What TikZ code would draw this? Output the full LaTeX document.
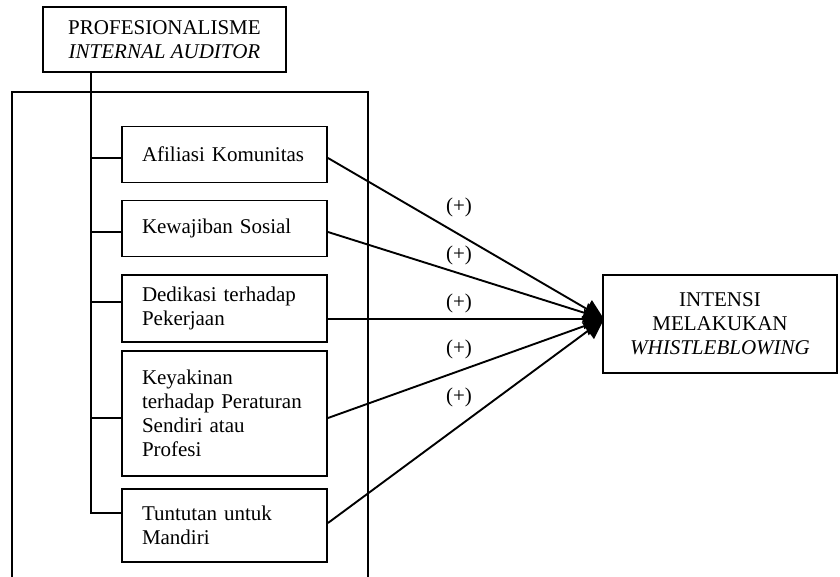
\documentclass[tikz,border=0pt]{standalone}
\usepackage{fontspec}
\setmainfont{Liberation Serif}
\usetikzlibrary{arrows.meta}
\begin{document}
\begin{tikzpicture}[x=1pt,y=-1pt,
  every node/.style={font=\fontsize{21}{24}\selectfont},
  ln/.style={line width=1.9pt},
  box/.style={draw,line width=1.9pt,inner sep=0pt},
  dim/.style={box,minimum width=205pt,text width=165pt,align=left,inner xsep=20pt,inner ysep=0pt},
  conn/.style={line width=1.9pt,-{Triangle[length=20pt,width=20pt]}},
  sign/.style={inner sep=1pt}]
\useasboundingbox (0,0) rectangle (840,577);
% outer frame (open at the bottom)
\draw[ln] (12,577) -- (12,92) -- (368,92) -- (368,577);
% top box
\node[box,minimum width=243pt,minimum height=65pt,align=center] (top) at (164.5,39.5)
  {PROFESIONALISME\\\textit{INTERNAL AUDITOR}};
% dimension boxes
\node[dim,minimum height=56pt] (b1) at (224.5,154.5) {Afiliasi Komunitas};
\node[dim,minimum height=56pt] (b2) at (224.5,228.5) {Kewajiban Sosial};
\node[dim,minimum height=67pt] (b3) at (224.5,308.5) {Dedikasi terhadap\\Pekerjaan};
\node[dim,minimum height=125pt] (b4) at (224.5,413.5) {Keyakinan\\terhadap Peraturan\\Sendiri atau\\Profesi};
\node[dim,minimum height=73pt] (b5) at (224.5,525.5) {Tuntutan untuk\\Mandiri};
% dependent variable
\node[box,minimum width=234pt,minimum height=98pt,align=center] (dv) at (720,324)
  {INTENSI\\MELAKUKAN\\\textit{WHISTLEBLOWING}};
% trunk
\coordinate (t0) at (91,72);
\coordinate (t5) at (91,513);
\draw[ln] (t0) -- (t5) -- (t5 -| b5.west);
\draw[ln] (91,158) -- (b1.west |- 0,158);
\draw[ln] (91,232) -- (b2.west |- 0,232);
\draw[ln] (91,302) -- (b3.west |- 0,302);
\draw[ln] (91,418) -- (b4.west |- 0,418);
% connectors
\coordinate (tip) at (604,319);
\draw[conn] (b1.east |- 0,158) -- (tip);
\draw[conn] (b2.east |- 0,232) -- (tip);
\draw[conn] (b3.east |- 0,319) -- (tip);
\draw[conn] (b4.east |- 0,418) -- (tip);
\draw[conn] (b5.east |- 0,523) -- (tip);
% signs
\node[sign] (s1) at (459,207) {(+)};
\node[sign] (s2) at (459,255) {(+)};
\node[sign] (s3) at (459,303) {(+)};
\node[sign] (s4) at (459,349) {(+)};
\node[sign] (s5) at (459,397) {(+)};
\end{tikzpicture}
\end{document}
